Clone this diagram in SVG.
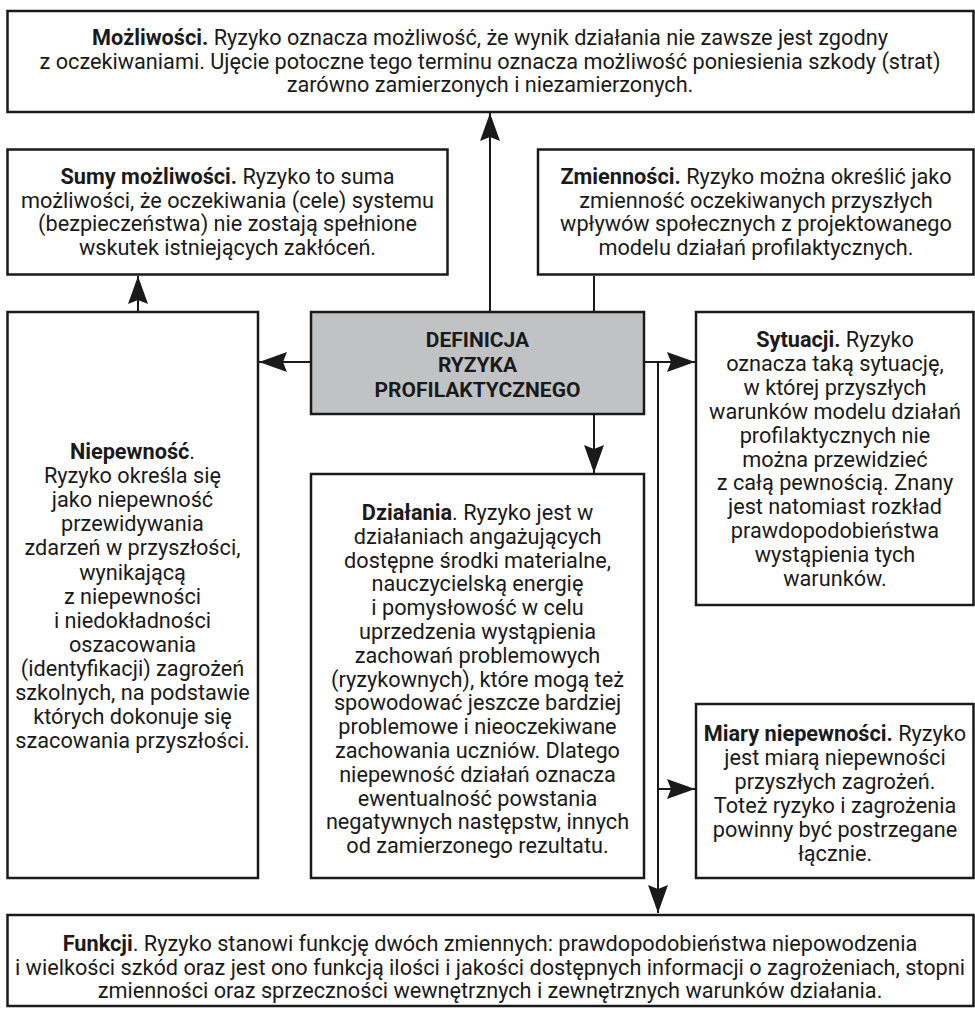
<svg xmlns="http://www.w3.org/2000/svg" width="975" height="1014" viewBox="0 0 975 1014">
<style>
.box{fill:#fff;stroke:#1a1a1a;stroke-width:2.5}
.core{fill:#c1c2c4;stroke:#1a1a1a;stroke-width:2.5}
.t{font-family:Roboto,"Liberation Sans",sans-serif;font-size:21.7px;fill:#1a1a1a;text-anchor:middle}
.b{font-weight:bold}
.c{font-family:Roboto,"Liberation Sans",sans-serif;font-size:21px;font-weight:bold;fill:#1a1a1a;text-anchor:middle}
.ln{stroke:#1a1a1a;stroke-width:2;fill:none}
</style>
<defs>
<marker id="ah" markerUnits="userSpaceOnUse" markerWidth="30" markerHeight="22" refX="28" refY="10" orient="auto">
<path d="M0,0 L28,10 L0,20 L4,10 Z" fill="#1a1a1a"/>
</marker>
</defs>
<rect width="975" height="1014" fill="#fff"/>
<g id="connectors">
<line class="ln" x1="490" y1="312" x2="490" y2="113" marker-end="url(#ah)"/>
<line class="ln" x1="594" y1="312" x2="594" y2="276"/>
<line class="ln" x1="138" y1="312" x2="138" y2="276" marker-end="url(#ah)"/>
<line class="ln" x1="311" y1="362" x2="259" y2="362" marker-end="url(#ah)"/>
<line class="ln" x1="644" y1="362" x2="695" y2="362" marker-end="url(#ah)"/>
<line class="ln" x1="594" y1="414" x2="594" y2="473" marker-end="url(#ah)"/>
<polyline class="ln" points="644,362 658,362 658,913" marker-end="url(#ah)"/>
<line class="ln" x1="658" y1="789" x2="695" y2="789" marker-end="url(#ah)"/>
</g>
<g id="mozliwosci">
<rect class="box" x="7.5" y="11" width="966" height="101"/>
<text class="t"><tspan x="490" y="45"><tspan class="b">Możliwości.</tspan> Ryzyko oznacza możliwość, że wynik działania nie zawsze jest zgodny</tspan><tspan x="490" y="68.5">z oczekiwaniami. Ujęcie potoczne tego terminu oznacza możliwość poniesienia szkody (strat)</tspan><tspan x="490" y="92">zarówno zamierzonych i niezamierzonych.</tspan></text>
</g>
<g id="sumy">
<rect class="box" x="7.5" y="149.5" width="440" height="125"/>
<text class="t"><tspan x="227.5" y="184"><tspan class="b">Sumy możliwości.</tspan> Ryzyko to suma</tspan><tspan x="227.5" y="207.5">możliwości, że oczekiwania (cele) systemu</tspan><tspan x="227.5" y="231">(bezpieczeństwa) nie zostają spełnione</tspan><tspan x="227.5" y="254.5">wskutek istniejących zakłóceń.</tspan></text>
</g>
<g id="zmiennosci">
<rect class="box" x="538" y="149.5" width="435.5" height="125"/>
<text class="t"><tspan x="756" y="184"><tspan class="b">Zmienności.</tspan> Ryzyko można określić jako</tspan><tspan x="756" y="207.5">zmienność oczekiwanych przyszłych</tspan><tspan x="756" y="231">wpływów społecznych z projektowanego</tspan><tspan x="756" y="254.5">modelu działań profilaktycznych.</tspan></text>
</g>
<g id="definicja">
<rect class="core" x="311" y="312" width="333" height="102"/>
<text class="c"><tspan x="477.5" y="347">DEFINICJA</tspan><tspan x="477.5" y="372">RYZYKA</tspan><tspan x="477.5" y="397">PROFILAKTYCZNEGO</tspan></text>
</g>
<g id="niepewnosc">
<rect class="box" x="7.5" y="312" width="250.5" height="566"/>
<text class="t"><tspan x="132.5" y="459"><tspan class="b">Niepewność</tspan>.</tspan><tspan x="132.5" dy="24.1">Ryzyko określa się</tspan><tspan x="132.5" dy="24.1">jako niepewność</tspan><tspan x="132.5" dy="24.1">przewidywania</tspan><tspan x="132.5" dy="24.1">zdarzeń w przyszłości,</tspan><tspan x="132.5" dy="24.1">wynikającą</tspan><tspan x="132.5" dy="24.1">z niepewności</tspan><tspan x="132.5" dy="24.1">i niedokładności</tspan><tspan x="132.5" dy="24.1">oszacowania</tspan><tspan x="132.5" dy="24.1">(identyfikacji) zagrożeń</tspan><tspan x="132.5" dy="24.1">szkolnych, na podstawie</tspan><tspan x="132.5" dy="24.1">których dokonuje się</tspan><tspan x="132.5" dy="24.1">szacowania przyszłości.</tspan></text>
</g>
<g id="dzialania">
<rect class="box" x="311" y="474" width="333" height="404"/>
<text class="t"><tspan x="477.5" y="520"><tspan class="b">Działania</tspan>. Ryzyko jest w</tspan><tspan x="477.5" dy="23.8">działaniach angażujących</tspan><tspan x="477.5" dy="23.8">dostępne środki materialne,</tspan><tspan x="477.5" dy="23.8">nauczycielską energię</tspan><tspan x="477.5" dy="23.8">i pomysłowość w celu</tspan><tspan x="477.5" dy="23.8">uprzedzenia wystąpienia</tspan><tspan x="477.5" dy="23.8">zachowań problemowych</tspan><tspan x="477.5" dy="23.8">(ryzykownych), które mogą też</tspan><tspan x="477.5" dy="23.8">spowodować jeszcze bardziej</tspan><tspan x="477.5" dy="23.8">problemowe i nieoczekiwane</tspan><tspan x="477.5" dy="23.8">zachowania uczniów. Dlatego</tspan><tspan x="477.5" dy="23.8">niepewność działań oznacza</tspan><tspan x="477.5" dy="23.8">ewentualność powstania</tspan><tspan x="477.5" dy="23.8">negatywnych następstw, innych</tspan><tspan x="477.5" dy="23.8">od zamierzonego rezultatu.</tspan></text>
</g>
<g id="sytuacji">
<rect class="box" x="696" y="312" width="277.5" height="293"/>
<text class="t"><tspan x="835" y="347"><tspan class="b">Sytuacji.</tspan> Ryzyko</tspan><tspan x="835" dy="23.9">oznacza taką sytuację,</tspan><tspan x="835" dy="23.9">w której przyszłych</tspan><tspan x="835" dy="23.9">warunków modelu działań</tspan><tspan x="835" dy="23.9">profilaktycznych nie</tspan><tspan x="835" dy="23.9">można przewidzieć</tspan><tspan x="835" dy="23.9">z całą pewnością. Znany</tspan><tspan x="835" dy="23.9">jest natomiast rozkład</tspan><tspan x="835" dy="23.9">prawdopodobieństwa</tspan><tspan x="835" dy="23.9">wystąpienia tych</tspan><tspan x="835" dy="23.9">warunków.</tspan></text>
</g>
<g id="miary">
<rect class="box" x="696" y="704" width="277.5" height="174"/>
<text class="t"><tspan x="835" y="741"><tspan class="b">Miary niepewności.</tspan> Ryzyko</tspan><tspan x="835" dy="24">jest miarą niepewności</tspan><tspan x="835" dy="24">przyszłych zagrożeń.</tspan><tspan x="835" dy="24">Toteż ryzyko i zagrożenia</tspan><tspan x="835" dy="24">powinny być postrzegane</tspan><tspan x="835" dy="24">łącznie.</tspan></text>
</g>
<g id="funkcji">
<rect class="box" x="7.5" y="915" width="966" height="91"/>
<text class="t"><tspan x="490" y="951"><tspan class="b">Funkcji</tspan>. Ryzyko stanowi funkcję dwóch zmiennych: prawdopodobieństwa niepowodzenia</tspan><tspan x="490" y="974.5">i wielkości szkód oraz jest ono funkcją ilości i jakości dostępnych informacji o zagrożeniach, stopni</tspan><tspan x="490" y="998">zmienności oraz sprzeczności wewnętrznych i zewnętrznych warunków działania.</tspan></text>
</g>
</svg>
